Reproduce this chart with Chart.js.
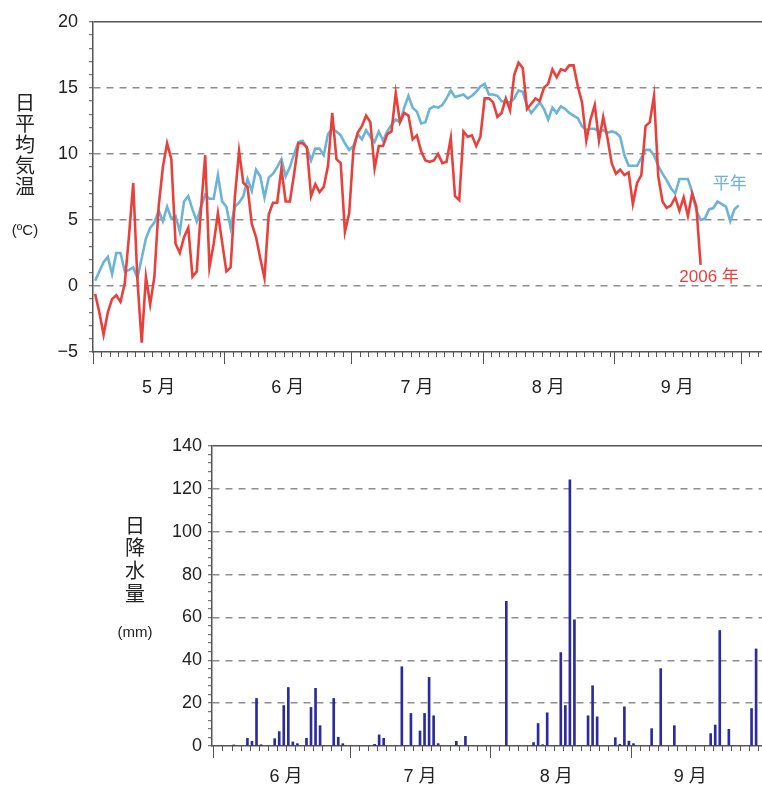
<!DOCTYPE html>
<html>
<head>
<meta charset="utf-8">
<script src="https://cdn.jsdelivr.net/npm/chart.js@4.4.1/dist/chart.umd.min.js"></script>
<style>
  body { margin: 0; background: #fff; overflow: hidden; }
  #wrap { position: relative; width: 762px; height: 787px; overflow: hidden; }
  canvas { position: absolute; left: 0; }
</style>
</head>
<body>
<div id="wrap">
  <canvas id="temp" width="762" height="405" style="top:0"></canvas>
  <canvas id="rain" width="762" height="382" style="top:405px"></canvas>
</div>
<script>
// daily mean temperature, 1 May .. 30 Sep (normal) and 1 May .. 21 Sep (2006)
const tempMonths = ["5 月", "6 月", "7 月", "8 月", "9 月"];
const tempMonthDays = [31, 30, 31, 31, 30];
const tempNormal = [
  0.4, 1.1, 1.8, 2.2, 0.9, 2.5, 2.5, 1.1, 1.2, 1.4,
  0.6, 2.1, 3.6, 4.4, 4.8, 5.7, 4.9, 6.0, 5.1, 5.3,
  4.1, 6.4, 6.8, 5.8, 4.9, 6.0, 6.9, 6.6, 6.6, 8.4,
  6.4, 6.0, 4.4, 6.0, 6.3, 6.8, 8.1, 7.2, 8.8, 8.3,
  6.7, 8.2, 8.5, 9.0, 9.6, 8.3, 9.0, 10.0, 10.9, 11.0,
  10.5, 9.5, 10.4, 10.4, 9.9, 11.5, 11.9, 11.7, 11.4, 10.8,
  10.3, 10.6, 11.5, 11.1, 11.8, 11.3, 10.9, 11.7, 11.0, 11.7,
  12.2, 12.6, 12.4, 13.5, 14.4, 13.5, 13.2, 12.3, 12.4, 13.4,
  13.6, 13.5, 13.7, 14.2, 14.8, 14.3, 14.4, 14.5, 14.2, 14.4,
  14.7, 15.1, 15.3, 14.5, 14.5, 14.4, 14.0, 13.9, 13.9, 14.2,
  14.8, 14.7, 13.6, 13.1, 13.5, 13.9, 13.4, 12.6, 13.5, 13.1,
  13.6, 13.4, 13.1, 12.9, 12.7, 12.1, 11.8, 11.9, 11.9, 11.7,
  11.8, 11.6, 11.7, 11.6, 11.3, 9.9, 9.1, 9.1, 9.1, 9.7,
  10.3, 10.3, 9.9, 9.1, 8.5, 8.0, 7.4, 7.0, 8.1, 8.1,
  8.1, 7.1, 5.7, 5.0, 5.1, 5.8, 5.9, 6.4, 6.2, 6.0,
  4.9, 5.8, 6.1
];
const temp2006 = [
  -0.6, -2.0, -3.7, -2.0, -1.0, -0.7, -1.2, 0.2, 3.8, 7.8,
  0.4, -4.3, 0.7, -1.4, 0.7, 6.0, 9.0, 10.8, 9.6, 3.2,
  2.5, 3.7, 4.4, 0.7, 1.1, 5.8, 9.9, 1.4, 3.2, 5.5,
  3.3, 1.1, 1.4, 6.7, 10.2, 7.8, 7.5, 4.7, 3.7, 2.1,
  0.6, 5.4, 6.3, 6.3, 8.9, 6.4, 6.4, 8.5, 10.8, 10.8,
  10.5, 6.8, 7.7, 7.1, 7.5, 9.1, 13.1, 9.6, 9.3, 4.1,
  5.5, 10.3, 11.6, 12.1, 12.9, 12.4, 8.9, 10.6, 10.6, 11.5,
  11.7, 14.6, 12.4, 13.1, 12.9, 11.1, 11.4, 10.2, 9.5, 9.4,
  9.5, 10.0, 9.3, 9.4, 11.2, 6.8, 6.5, 11.7, 11.3, 11.4,
  10.6, 11.3, 14.2, 14.2, 13.9, 12.8, 13.1, 14.2, 13.3, 16.0,
  16.9, 16.5, 13.4, 13.8, 14.2, 14.0, 15.0, 15.3, 16.4, 15.8,
  16.4, 16.3, 16.7, 16.7, 15.1, 13.9, 11.0, 12.6, 13.7, 11.0,
  12.8, 11.2, 9.3, 8.5, 8.8, 8.4, 8.6, 6.2, 7.8, 8.4,
  12.1, 12.4, 14.4, 8.3, 6.4, 5.9, 6.1, 6.7, 5.7, 6.7,
  5.3, 7.0, 6.0, 1.6
];
const tempTicksY = [-5, 0, 5, 10, 15, 20];

// daily precipitation 2006, 1 Jun .. 30 Sep
const rainMonths = ["6 月", "7 月", "8 月", "9 月"];
const rainMonthDays = [30, 31, 31, 30];
const rain2006 = [
  0, 0, 0, 0, 0.5, 0, 0, 3.6, 2.2, 22.2,
  0.6, 0, 0, 3.4, 6.7, 18.9, 27.3, 1.9, 1.1, 0,
  3.6, 18.0, 26.9, 9.5, 0, 0, 22.2, 4.1, 1.1, 0,
  0, 0, 0, 0, 0, 0.8, 5.2, 3.6, 0, 0,
  0, 37.0, 0.3, 15.2, 0, 7.0, 15.2, 32.0, 14.1, 1.1,
  0, 0, 0, 2.2, 0, 4.5, 0, 0, 0, 0,
  0, 0, 0, 0, 67.5, 0, 0, 0, 0, 0,
  1.6, 10.5, 0.6, 15.5, 0, 0, 43.6, 18.9, 124.2, 58.9,
  0.3, 0.3, 14.1, 28.1, 13.6, 0, 0, 0, 3.9, 0.8,
  18.3, 2.3, 1.1, 0, 0, 0, 8.1, 0, 36.1, 0,
  0, 9.5, 0, 0, 0, 0, 0, 0, 0, 5.8,
  9.8, 53.9, 0, 7.8, 0, 0, 0, 0, 17.5, 45.3,
  0, 0
];
const rainTicksY = [0, 20, 40, 60, 80, 100, 120, 140];

const FONT = "'Liberation Sans', Arial, 'Noto Sans CJK JP', sans-serif";
Chart.defaults.font.family = FONT;
Chart.defaults.font.size = 18;
Chart.defaults.color = "#222";
Chart.defaults.animation = false;

const AXIS = "#555";
const GRID = "#8e8e8e";
const CLEAR = "rgba(0,0,0,0)";

// month starts and the small ticks on odd dates in between
function dayMarks(monthDays, max) {
  const out = [];
  let start = 0;
  monthDays.concat([31]).forEach(len => {
    for (let d = 0; d < len && start + d <= max; d += 2) {
      out.push({ v: start + d, major: d === 0 });
    }
    start += len;
  });
  return out;
}
function monthMids(monthDays) {
  let start = 0;
  return monthDays.map(len => { const m = start + len / 2; start += len; return m; });
}

const dayTicks = {
  id: "dayTicks",
  afterDraw(chart, args, opts) {
    const x = chart.scales.x, ctx = chart.ctx;
    ctx.save();
    ctx.strokeStyle = AXIS;
    ctx.lineWidth = 1;
    opts.marks.forEach(t => {
      const px = Math.round(x.getPixelForValue(t.v)) + 0.5;
      if (px < x.left - 1 || px > x.right + 1) return;
      ctx.beginPath();
      ctx.moveTo(px, x.top);
      ctx.lineTo(px, x.top + (t.major ? 12 : 5));
      ctx.stroke();
    });
    ctx.restore();
  }
};

// vertical axis caption, one character per line
const sideCaption = {
  id: "sideCaption",
  afterDraw(chart, args, opts) {
    const ctx = chart.ctx;
    ctx.save();
    ctx.fillStyle = "#222";
    ctx.textAlign = "center";
    ctx.textBaseline = "middle";
    ctx.font = "20px " + FONT;
    Array.from(opts.text).forEach((ch, i) => ctx.fillText(ch, opts.x, opts.y + i * opts.step));
    ctx.font = "15px " + FONT;
    ctx.fillText(opts.unit, opts.x, opts.unitY);
    ctx.restore();
  }
};

const seriesNames = {
  id: "seriesNames",
  afterDatasetsDraw(chart, args, opts) {
    const { x, y } = chart.scales, ctx = chart.ctx;
    ctx.save();
    ctx.font = "17px " + FONT;
    ctx.textAlign = "center";
    ctx.textBaseline = "middle";
    opts.items.forEach(it => {
      ctx.fillStyle = it.color;
      ctx.fillText(it.text, x.getPixelForValue(it.x), y.getPixelForValue(it.y));
    });
    ctx.restore();
  }
};

function gridStyle(top, labelled) {
  return {
    color: c => {
      const v = c.tick && c.tick.value;
      if (v === top) return AXIS;
      return labelled.includes(v) && v !== labelled[0] ? GRID : CLEAR;
    },
    lineWidth: c => (c.tick && c.tick.value === top ? 1.5 : 1.4),
    tickColor: AXIS,
    tickLength: 4,
    tickWidth: 1
  };
}

const RED = "#e8413b";
const BLUE = "#6cb3d8";

new Chart(document.getElementById("temp"), {
  type: "line",
  data: {
    datasets: [
      {
        label: "2006 年",
        data: temp2006.map((v, i) => ({ x: i + 0.5, y: v })),
        borderColor: RED,
        borderWidth: 2.6,
        pointRadius: 0,
        tension: 0
      },
      {
        label: "平年",
        data: tempNormal.map((v, i) => ({ x: i + 0.5, y: v })),
        borderColor: BLUE,
        borderWidth: 2.6,
        pointRadius: 0,
        tension: 0
      }
    ]
  },
  options: {
    responsive: false,
    layout: { padding: { top: 14, right: 0, bottom: 0, left: 0 } },
    plugins: {
      legend: { display: false },
      tooltip: { enabled: false },
      dayTicks: { marks: dayMarks(tempMonthDays, 158) },
      sideCaption: { text: "日平均気温", x: 25, y: 104, step: 21, unit: "(ºC)", unitY: 231 },
      seriesNames: {
        items: [
          { text: "平年", x: 150.4, y: 7.7, color: BLUE },
          { text: "2006 年", x: 145.5, y: 0.65, color: RED }
        ]
      }
    },
    scales: {
      x: {
        type: "linear",
        min: 0,
        max: 158,
        afterBuildTicks: s => { s.ticks = monthMids(tempMonthDays).map(v => ({ value: v })); },
        afterFit: s => { s.height = 53; },
        ticks: { autoSkip: false, maxRotation: 0, padding: 13, callback: (v, i) => tempMonths[i] },
        grid: { drawOnChartArea: false, tickLength: 12, tickColor: CLEAR },
        border: { color: AXIS, width: 1.5 }
      },
      y: {
        min: -5,
        max: 20,
        afterFit: s => { s.width = 93; },
        ticks: {
          stepSize: 1,
          autoSkip: false,
          padding: 11,
          callback: v => (tempTicksY.includes(v) ? String(v).replace("-", "\u2212") : "")
        },
        grid: gridStyle(20, tempTicksY),
        border: { color: AXIS, width: 1.5, dash: c => (c.tick && c.tick.value === 20 ? [] : [7, 6]) }
      }
    }
  },
  plugins: [dayTicks, sideCaption, seriesNames]
});

// month names sit a little left of mid-month on this axis
const rainLabelAt = [16, 45.5, 75.5, 105];

new Chart(document.getElementById("rain"), {
  type: "bar",
  data: {
    datasets: [{
      label: "日降水量",
      data: rain2006.map((v, i) => ({ x: i + 0.5, y: v })).filter(p => p.y > 0),
      backgroundColor: "#2d2b9b",
      barThickness: 2,
      borderWidth: 0
    }]
  },
  options: {
    responsive: false,
    layout: { padding: { top: 41, right: 0, bottom: 0, left: 0 } },
    plugins: {
      legend: { display: false },
      tooltip: { enabled: false },
      dayTicks: { marks: dayMarks(rainMonthDays, 121) },
      sideCaption: { text: "日降水量", x: 135, y: 122, step: 22.7, unit: "(mm)", unitY: 228 }
    },
    scales: {
      x: {
        type: "linear",
        offset: false,
        min: -0.3,
        max: 120.8,
        afterBuildTicks: s => { s.ticks = rainLabelAt.map(v => ({ value: v })); },
        afterFit: s => { s.height = 41; },
        ticks: { autoSkip: false, maxRotation: 0, padding: 8, callback: (v, i) => rainMonths[i] },
        grid: { drawOnChartArea: false, offset: false, tickLength: 12, tickColor: CLEAR },
        border: { color: AXIS, width: 1.5 }
      },
      y: {
        min: 0,
        max: 140,
        afterFit: s => { s.width = 212; },
        ticks: {
          stepSize: 4,
          autoSkip: false,
          padding: 6,
          callback: v => (rainTicksY.includes(v) ? String(v) : "")
        },
        grid: gridStyle(140, rainTicksY),
        border: { color: AXIS, width: 1.5, dash: c => (c.tick && c.tick.value === 140 ? [] : [7, 6]) }
      }
    }
  },
  plugins: [dayTicks, sideCaption]
});
</script>
</body>
</html>
